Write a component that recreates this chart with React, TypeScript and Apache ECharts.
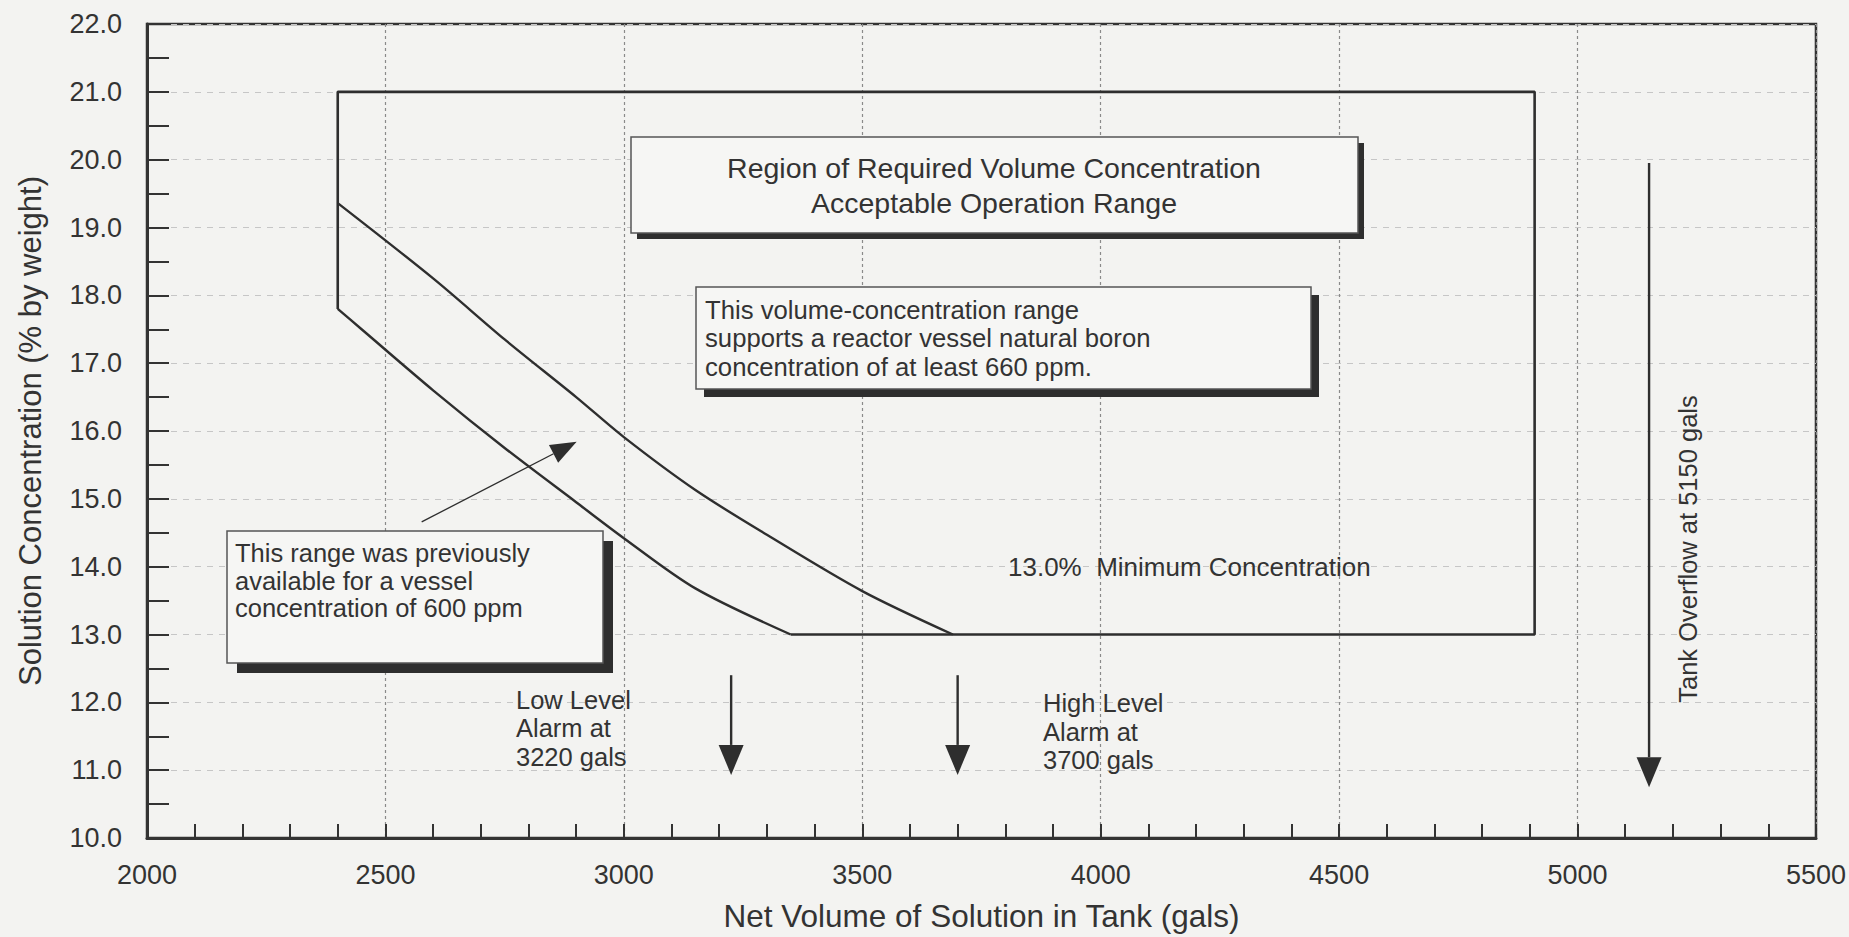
import React, { useEffect, useRef } from "react";
import * as echarts from "echarts";

// ---- Data ----
const xMin = 2000;
const xMax = 5500;
const yMin = 10;
const yMax = 22;

// Outer boundary of the required volume-concentration region
const boundaryX = [2400, 2400, 4910, 4910, 3350];
const boundaryY = [17.8, 21.0, 21.0, 13.0, 13.0];

// 600 ppm curve (previous limit)
const curve600X = [2400, 2450, 2600, 2750, 2900, 3000, 3150, 3350];
const curve600Y = [17.8, 17.5, 16.6, 15.75, 14.95, 14.42, 13.68, 13.0];

// 660 ppm curve (current limit)
const curve660X = [2400, 2600, 2750, 2900, 3000, 3150, 3300, 3500, 3690];
const curve660Y = [19.36, 18.25, 17.35, 16.5, 15.91, 15.13, 14.47, 13.64, 13.0];

// Alarm / overflow arrows (volume, top, tip)
const alarmX = [3225, 3700, 5150];
const alarmTopY = [12.4, 12.4, 19.95];
const alarmTipY = [10.93, 10.93, 10.75];

// Pointer arrow from the "previously available" note
const pointerFrom = [2576, 14.66];
const pointerTo = [2901, 15.84];

const FONT = "'Liberation Sans', Arial, Helvetica, sans-serif";
const INK = "#2e2e2e";
const TEXT = "#333333";
const BG = "#f3f3f1";

const zip = (xs: number[], ys: number[]) => xs.map((x, i) => [x, ys[i]]);

function arrowRenderer(headLen: number, headW: number, lw: number) {
  return (_params: any, api: any) => {
    const a = api.coord([api.value(0), api.value(1)]);
    const b = api.coord([api.value(2), api.value(3)]);
    const dx = b[0] - a[0];
    const dy = b[1] - a[1];
    const L = Math.hypot(dx, dy) || 1;
    const ux = dx / L;
    const uy = dy / L;
    const bx = b[0] - ux * headLen;
    const by = b[1] - uy * headLen;
    const px = -uy;
    const py = ux;
    return {
      type: "group",
      children: [
        {
          type: "line",
          shape: { x1: a[0], y1: a[1], x2: bx, y2: by },
          style: { stroke: INK, lineWidth: lw },
        },
        {
          type: "polygon",
          shape: {
            points: [
              [b[0], b[1]],
              [bx + (px * headW) / 2, by + (py * headW) / 2],
              [bx - (px * headW) / 2, by - (py * headW) / 2],
            ],
          },
          style: { fill: INK },
        },
      ],
    };
  };
}

function noteBox(x: number, y: number, w: number, h: number, off: number) {
  return [
    {
      type: "rect",
      z: 20,
      shape: { x: x + off, y: y + off, width: w, height: h },
      style: { fill: INK },
    },
    {
      type: "rect",
      z: 21,
      shape: { x, y, width: w, height: h },
      style: { fill: "#f6f6f4", stroke: "#555", lineWidth: 1.5 },
    },
  ];
}

function txt(
  text: string,
  x: number,
  y: number,
  size: number,
  align: string = "left",
  extra: any = {}
) {
  return {
    type: "text",
    z: 22,
    x,
    y,
    ...extra,
    style: {
      text,
      x: 0,
      y: 0,
      fill: TEXT,
      fontSize: size,
      fontFamily: FONT,
      align,
      verticalAlign: "middle",
      lineHeight: 28,
    },
  };
}

export default function App() {
  const ref = useRef<HTMLDivElement>(null);

  useEffect(() => {
    if (!ref.current) return;
    const chart = echarts.init(ref.current, undefined, { renderer: "svg" });

    const graphic: any[] = [
      ...noteBox(631, 137, 727, 96, 6),
      txt("Region of Required Volume Concentration", 994, 168, 28.5, "center"),
      txt("Acceptable Operation Range", 994, 203, 28.5, "center"),

      ...noteBox(696, 287, 615, 102, 8),
      txt("This volume-concentration range", 705, 310, 25.7),
      txt("supports a reactor vessel natural boron", 705, 338, 25.7),
      txt("concentration of at least 660 ppm.", 705, 367, 25.7),

      ...noteBox(227, 531, 376, 132, 10),
      txt("This range was previously", 235, 553, 25.5),
      txt("available for a vessel", 235, 581, 25.5),
      txt("concentration of 600 ppm", 235, 608, 25.5),

      txt("13.0%  Minimum Concentration", 1008, 567, 26),

      txt("Low Level", 516, 700, 25.5),
      txt("Alarm at", 516, 728, 25.5),
      txt("3220 gals", 516, 757, 25.5),

      txt("High Level", 1043, 703, 25.5),
      txt("Alarm at", 1043, 732, 25.5),
      txt("3700 gals", 1043, 760, 25.5),

      txt("Tank Overflow at 5150 gals", 1688, 549, 25.5, "center", {
        rotation: Math.PI / 2,
      }),
    ];

    const option: any = {
      animation: false,
      backgroundColor: BG,
      textStyle: { fontFamily: FONT },
      grid: {
        left: 147,
        right: 32,
        top: 24,
        bottom: 99,
        show: true,
        borderColor: "#333",
        borderWidth: 2.5,
        backgroundColor: "transparent",
      },
      xAxis: {
        type: "value",
        min: xMin,
        max: xMax,
        interval: 500,
        name: "Net Volume of Solution in Tank (gals)",
        nameLocation: "middle",
        nameGap: 62,
        nameTextStyle: { fontSize: 31.5, color: TEXT, fontFamily: FONT },
        axisLine: { show: true, lineStyle: { color: "#333", width: 3 } },
        axisTick: { show: true, inside: true, length: 14, lineStyle: { color: "#333", width: 2 } },
        minorTick: { show: true, splitNumber: 5, length: 14, lineStyle: { color: "#333", width: 2 } },
        axisLabel: {
          fontSize: 27,
          color: TEXT,
          margin: 23,
          fontFamily: FONT,
          formatter: (v: number) => String(v),
        },
        splitLine: { show: true, lineStyle: { color: "#8a8a8a", width: 1.2, type: [3, 3] } },
      },
      yAxis: {
        type: "value",
        min: yMin,
        max: yMax,
        interval: 1,
        name: "Solution Concentration (% by weight)",
        nameLocation: "middle",
        nameRotate: 90,
        nameGap: 101,
        nameTextStyle: { fontSize: 31, color: TEXT, fontFamily: FONT },
        axisLine: { show: true, lineStyle: { color: "#333", width: 3 } },
        axisTick: { show: true, inside: true, length: 22, lineStyle: { color: "#333", width: 2 } },
        minorTick: { show: true, splitNumber: 2, length: 22, lineStyle: { color: "#333", width: 2 } },
        axisLabel: {
          fontSize: 27,
          color: TEXT,
          margin: 25,
          fontFamily: FONT,
          formatter: (v: number) => v.toFixed(1),
        },
        splitLine: { show: true, lineStyle: { color: "#c6c6c6", width: 1, type: [6, 6] } },
      },
      series: [
        {
          name: "Region boundary",
          type: "line",
          data: zip(boundaryX, boundaryY),
          showSymbol: false,
          lineStyle: { color: INK, width: 2.6 },
          z: 5,
        },
        {
          name: "600 ppm",
          type: "line",
          data: zip(curve600X, curve600Y),
          showSymbol: false,
          smooth: 0.3,
          lineStyle: { color: INK, width: 2.4 },
          z: 5,
        },
        {
          name: "660 ppm",
          type: "line",
          data: zip(curve660X, curve660Y),
          showSymbol: false,
          smooth: 0.3,
          lineStyle: { color: INK, width: 2.4 },
          z: 5,
        },
        {
          name: "Alarm arrows",
          type: "custom",
          clip: false,
          z: 6,
          encode: { x: [0, 2], y: [1, 3] },
          data: alarmX.map((x, i) => [x, alarmTopY[i], x, alarmTipY[i]]),
          renderItem: arrowRenderer(30, 25, 2.4),
        },
        {
          name: "Pointer arrow",
          type: "custom",
          clip: false,
          z: 6,
          encode: { x: [0, 2], y: [1, 3] },
          data: [[pointerFrom[0], pointerFrom[1], pointerTo[0], pointerTo[1]]],
          renderItem: arrowRenderer(26, 20, 1.3),
        },
      ],
      graphic,
    };

    chart.setOption(option);
    return () => chart.dispose();
  }, []);

  return (
    <div
      ref={ref}
      style={{ position: "fixed", left: 0, top: 0, width: 1849, height: 937 }}
    />
  );
}
